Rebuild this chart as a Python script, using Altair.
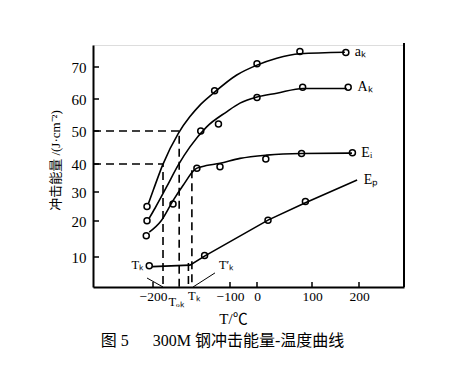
import altair as alt
import pandas as pd

# ---- measured points (temperature °C, impact energy J/cm^2) ----
ak_T = [-208, -120, 0, 78, 172]
ak_v = [25.0, 62.6, 71.0, 74.9, 74.6]
Ak_T = [-208, -138, -115, 0, 83, 177]
Ak_v = [20.1, 50.0, 52.2, 60.5, 63.7, 63.7]
Ei_T = [-209, -174, -143, -113, 16, 81, 186]
Ei_v = [15.9, 25.9, 38.5, 39.0, 41.5, 43.2, 43.4]
Ep_T = [-205, -133, 20, 88]
Ep_v = [7.1, 10.4, 20.3, 26.7]

# ---- fitted curves ----
ak_curve_T = [-206, -199.6, -187.4, -167.1, -152, -139, -121.7, -75, 0, 36, 78, 170]
ak_curve_v = [26.1, 30.7, 39.7, 49.3, 54.5, 58.1, 61.8, 67.5, 70.6, 72.8, 74.2, 74.7]
Ak_curve_T = [-205, -197.4, -182.2, -167.1, -152, -130.3, -104.3, -63, 0, 36, 84, 174]
Ak_curve_v = [21, 24.4, 31.9, 39.7, 45.2, 51.3, 56.0, 58.7, 60.6, 61.8, 63.3, 63.3]
Ei_curve_T = [-205, -189.6, -173.6, -160.6, -145.5, -136.8, -113, -63, 17.6, 81, 185]
Ei_curve_v = [16.9, 20, 27.2, 32.5, 38.1, 39.0, 40.2, 41.7, 42.7, 43.2, 43.3]
Ep_curve_T = [-201, -152, -132.5, 20, 87, 196]
Ep_curve_v = [6.8, 7.3, 10.3, 20.3, 26.2, 34.3]

# ---- dashed construction lines ----
dash_id = ["d1", "d1", "d1", "d2", "d2", "d2", "d3", "d3", "d4", "d4"]
dash_T = [-280, -166, -166, -280, -187, -187, -149.5, -149.5, -154, -154]
dash_v = [50, 50, 0, 40, 40, 0, 37.8, 0, 8, 0]

# ---- leader lines ----
lead_id = ["l1", "l1", "l2", "l2"]
lead_T = [-208, -187, -119.5, -148]
lead_v = [3, 0, 4.7, 0]

# ---- annotation texts ----
ann_text = ["Tₖ", "T′ₖ", "Tₒₖ", "Tₖ"]
ann_T = [-221, -105, -170, -147]
ann_v = [7.3, 7.3, -4.9, -3.0]

end_text = ["aₖ", "Aₖ", "Eᵢ", "Eₚ"]
end_T = [191, 197, 205, 210]
end_v = [74.8, 63.8, 43.3, 34.3]

x_ticks = [-200, -100, 0, 100, 200]
y_ticks = [10, 20, 30, 40, 50, 60, 70]

# piecewise scales reproduce the hand-drawn (non-uniform) axes
x_dom = [-280, -200, -100, 0, 100, 200, 295]
x_rng = [0, 60, 137, 164, 219, 266, 311]
y_dom = [0, 10, 20, 30, 40, 50, 60, 70, 77]
y_rng = [242, 212, 176, 147, 119, 86, 54, 22, 0]

W, H = 311, 242
SERIF = "Liberation Serif, Noto Sans CJK SC"

xscale = alt.Scale(domain=x_dom, range=x_rng, nice=False, zero=False)
yscale = alt.Scale(domain=y_dom, range=y_rng, nice=False, zero=False)

xaxis = alt.Axis(values=x_ticks, ticks=False, grid=False, domainColor="black", domainWidth=2,
                 labelFont=SERIF, labelFontSize=13.5, labelColor="black", labelPadding=2,
                 title="T/℃", titleFont=SERIF, titleFontSize=15, titleFontWeight="normal",
                 titleColor="black", titleX=140, titleY=31, titleBaseline="middle", titleAlign="center")
yaxis = alt.Axis(values=y_ticks, ticks=False, grid=False, domainColor="black", domainWidth=2,
                 labelFont=SERIF, labelFontSize=15, labelColor="black", labelPadding=7,
                 title="冲击能量 /(J·cm⁻²)", titleFont=SERIF, titleFontSize=13, titleFontWeight="normal",
                 titleColor="black", titleAngle=270, titleX=-38, titleY=115,
                 titleBaseline="middle", titleAlign="center")


def X(f="T"):
    return alt.X(f"{f}:Q", scale=xscale, axis=xaxis)


def Y(f="v"):
    return alt.Y(f"{f}:Q", scale=yscale, axis=yaxis)


pts = pd.DataFrame({
    "T": ak_T + Ak_T + Ei_T + Ep_T,
    "v": ak_v + Ak_v + Ei_v + Ep_v,
    "s": ["ak"] * len(ak_T) + ["Ak"] * len(Ak_T) + ["Ei"] * len(Ei_T) + ["Ep"] * len(Ep_T),
})
smooth = pd.DataFrame({
    "T": ak_curve_T + Ak_curve_T + Ei_curve_T,
    "v": ak_curve_v + Ak_curve_v + Ei_curve_v,
    "s": ["ak"] * len(ak_curve_T) + ["Ak"] * len(Ak_curve_T) + ["Ei"] * len(Ei_curve_T),
})
smooth["o"] = range(len(smooth))
ep_line = pd.DataFrame({"T": Ep_curve_T, "v": Ep_curve_v})
ep_line["o"] = range(len(ep_line))
dash = pd.DataFrame({"id": dash_id, "T": dash_T, "v": dash_v})
dash["o"] = range(len(dash))
lead = pd.DataFrame({"id": lead_id, "T": lead_T, "v": lead_v})
lead["o"] = range(len(lead))
ann = pd.DataFrame({"t": ann_text, "T": ann_T, "v": ann_v})
ends = pd.DataFrame({"t": end_text, "T": end_T, "v": end_v})
xt = pd.DataFrame({"T": x_ticks})
yt = pd.DataFrame({"v": y_ticks})
one = pd.DataFrame({"k": [0]})

curves = alt.Chart(smooth).mark_line(color="black", strokeWidth=1.6, interpolate="monotone").encode(
    x=X(), y=Y(), detail="s:N", order="o:Q")
ep = alt.Chart(ep_line).mark_line(color="black", strokeWidth=1.6).encode(x=X(), y=Y(), order="o:Q")
dashes = alt.Chart(dash).mark_line(color="black", strokeWidth=1.6, strokeDash=[8, 5]).encode(
    x=X(), y=Y(), detail="id:N", order="o:Q")
leads = alt.Chart(lead).mark_line(color="black", strokeWidth=1).encode(
    x=X(), y=Y(), detail="id:N", order="o:Q")
markers = alt.Chart(pts).mark_point(shape="circle", filled=False, size=36, color="black",
                                    strokeWidth=1.5, opacity=1).encode(x=X(), y=Y(), detail="s:N")
ann_txt = alt.Chart(ann).mark_text(font=SERIF, fontSize=12.5, color="black", align="center",
                                   baseline="middle").encode(x=X(), y=Y(), text="t:N")
end_txt = alt.Chart(ends).mark_text(font=SERIF, fontSize=14, color="black", align="left",
                                    baseline="middle").encode(x=X(), y=Y(), text="t:N")
xtick = alt.Chart(xt).mark_rule(color="black", strokeWidth=1.5).encode(
    x=X(), y=alt.value(H), y2=alt.value(H - 5))
ytick = alt.Chart(yt).mark_rule(color="black", strokeWidth=1.5).encode(
    y=Y(), x=alt.value(0), x2=alt.value(6))
border = alt.Chart(one).mark_rule(color="black", strokeWidth=2).encode(
    x=alt.value(W), y=alt.value(-2), y2=alt.value(H))

chart = alt.layer(dashes, leads, curves, ep, markers, ann_txt, end_txt, xtick, ytick, border).properties(
    width=W, height=H,
    autosize="none",
    padding={"left": 85, "top": 37, "right": 41, "bottom": 77},
    title=alt.TitleParams(text="图 5\u2003\u2002300M 钢冲击能量-温度曲线", orient="bottom", anchor="middle",
                          frame="group", dx=-26, offset=7, fontSize=16, font=SERIF,
                          fontWeight="normal", color="black"),
).configure_view(stroke=None).configure(background="white")

chart.save("out.html", embed_options={"renderer": "svg", "actions": False})
